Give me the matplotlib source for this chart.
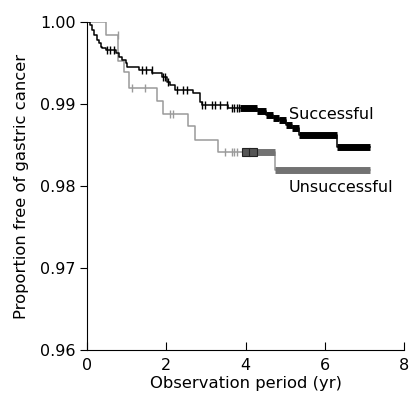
import numpy as np
import matplotlib
matplotlib.use("Agg")
import matplotlib.pyplot as plt

# ---- data ----
# Successful eradication group: step times (yr) and survival after each step
succ_t = [0.0, 0.07, 0.13, 0.18, 0.25, 0.30, 0.35, 0.38, 0.47, 0.72, 0.81, 0.88,
          0.98, 1.01, 1.31, 1.64, 1.89, 2.01, 2.10, 2.22, 2.68, 2.86, 2.90, 3.56,
          4.30, 4.52, 4.70, 4.85, 5.03, 5.18, 5.35, 6.31]
succ_s = [1.0, 0.99963, 0.99902, 0.99841, 0.99780, 0.99744, 0.99699, 0.99683,
          0.99659, 0.99622, 0.99577, 0.99537, 0.99500, 0.99455, 0.99415, 0.99378,
          0.99333, 0.99272, 0.99232, 0.99171, 0.99134, 0.99028, 0.98988, 0.98951,
          0.98915, 0.98866, 0.98829, 0.98805, 0.98744, 0.98707, 0.98622, 0.98476]
succ_end = 7.15
succ_censor = [0.50, 0.58, 0.68, 1.40, 1.50, 1.63, 1.92, 1.97, 2.05, 2.26, 2.43,
               2.52, 2.90, 2.98, 3.15, 3.23, 3.36, 3.53, 3.65, 3.71, 3.78, 3.84]
succ_band = (3.86, 7.15)          # densely censored interval

# Unsuccessful eradication group
unsu_t = [0.0, 0.47, 0.79, 0.93, 1.06, 1.77, 1.92, 2.55, 2.73, 3.31, 4.75]
unsu_s = [1.0, 0.9984, 0.9953, 0.9939, 0.9920, 0.9904, 0.9888, 0.9873, 0.9856,
          0.9841, 0.9820]
unsu_end = 7.15
unsu_censor = [0.78, 1.14, 1.47, 2.10, 2.16, 3.48, 3.65, 3.71, 3.78]
unsu_boxes = [4.00, 4.19]
unsu_band = (4.29, 7.15)

labels = ["Successful", "Unsuccessful"]
x_ticks = [0, 2, 4, 6, 8]
y_ticks = [0.96, 0.97, 0.98, 0.99, 1.00]


def surv_at(times, surv, q):
    idx = np.searchsorted(np.asarray(times), np.asarray(q), side="right") - 1
    return np.asarray(surv)[idx]


def band_segments(times, surv, band):
    lo, hi = band
    cuts = [lo] + [t for t in times if lo < t < hi] + [hi]
    starts = np.array(cuts[:-1])
    ends = np.array(cuts[1:])
    return surv_at(times, surv, starts), starts, ends


plt.rcParams["font.family"] = ["DejaVu Sans"]
fig = plt.figure(figsize=(4.13, 4.05), dpi=100)
ax = fig.add_axes([0.2107, 0.1358, 0.7675, 0.8099])

GRAY = "#9a9a9a"
BAND_GRAY = "#727272"
BAND_LW = 5.0

# unsuccessful curve
ut = list(unsu_t) + [unsu_end]
us = list(unsu_s) + [unsu_s[-1]]
ax.step(ut, us, where="post", color=GRAY, lw=1.1, zorder=2)
ax.plot(unsu_censor, surv_at(unsu_t, unsu_s, unsu_censor), "|", color=GRAY,
        ms=6, mew=1.0, zorder=3)
yv, xs, xe = band_segments(unsu_t, unsu_s, unsu_band)
ax.hlines(yv, xs, xe, color=BAND_GRAY, lw=BAND_LW, zorder=3)
ax.plot(unsu_boxes, surv_at(unsu_t, unsu_s, unsu_boxes), "s", ms=5.4,
        mfc="#555555", mec="#222222", mew=0.8, zorder=4)

# successful curve
stt = list(succ_t) + [succ_end]
sss = list(succ_s) + [succ_s[-1]]
ax.step(stt, sss, where="post", color="black", lw=1.1, zorder=5)
ax.plot(succ_censor, surv_at(succ_t, succ_s, succ_censor), "|", color="black",
        ms=6, mew=1.0, zorder=6)
yv, xs, xe = band_segments(succ_t, succ_s, succ_band)
ax.hlines(yv, xs, xe, color="black", lw=BAND_LW, zorder=6)

ax.text(5.10, 0.9887, labels[0], fontsize=11.5, ha="left", va="center")
ax.text(5.10, 0.9798, labels[1], fontsize=11.5, ha="left", va="center")

ax.set_xlim(0, 8)
ax.set_ylim(0.96, 1.00)
ax.set_xticks(x_ticks)
ax.set_yticks(y_ticks)
ax.set_yticklabels([f"{v:.2f}" for v in y_ticks])
ax.tick_params(axis="x", direction="in", length=6, labelsize=11.5, pad=6)
ax.tick_params(axis="y", direction="out", length=5, labelsize=11.5, pad=3)
ax.spines["top"].set_visible(False)
ax.spines["right"].set_visible(False)
ax.set_xlabel("Observation period (yr)", fontsize=11.8, labelpad=2)
ax.set_ylabel("Proportion free of gastric cancer", fontsize=11.8, labelpad=8)

fig.savefig("out.png", dpi=100)
